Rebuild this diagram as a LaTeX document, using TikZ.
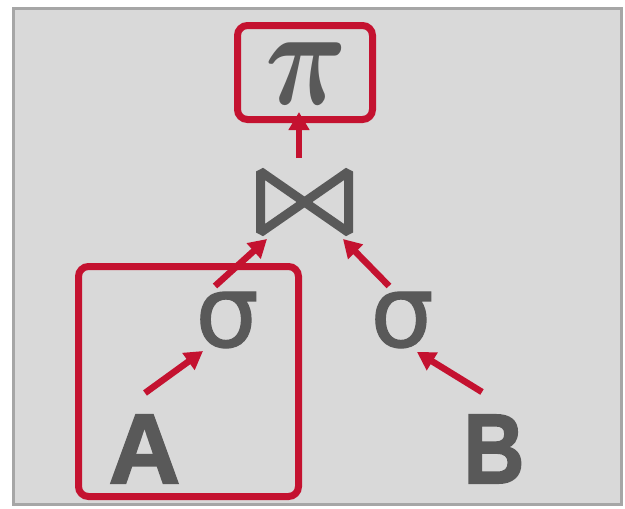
\documentclass[tikz,border=0pt]{standalone}
\usepackage{fontspec}
\usetikzlibrary{arrows.meta}
\newfontfamily\hvyfont[FakeBold=2]{Liberation Sans}
\newfontfamily\dvsfont[FakeBold=1.2]{DejaVu Sans}
\definecolor{redc}{HTML}{C41230}
\definecolor{txt}{HTML}{595959}
\definecolor{bg}{HTML}{D9D9D9}
\definecolor{frame}{HTML}{A6A6A6}
\tikzset{
  sym/.style={text=txt, inner sep=0pt, outer sep=0pt},
  arr/.style={draw=redc, line width=6.5pt, -{Triangle[length=18pt,width=20pt]}},
  grp/.style={draw=redc, line width=7pt, rounded corners=10pt},
  bowtie/.style={draw=txt, line width=9pt, line join=miter, miter limit=1.4},
}
\begin{document}
\begin{tikzpicture}[x=1pt,y=-1pt]
\useasboundingbox (0,0) rectangle (625,509);
\fill[white] (0,0) rectangle (625,509);
\draw[frame, fill=bg, line width=3pt] (13.5,8.5) rectangle (621.5,504.5);
% nodes
\node[sym] (pi) at (307,74) {\scalebox{11.4}[13.9]{\boldmath$\pi$}};
\node[sym, minimum width=97pt, minimum height=70pt] (join) at (304.5,202) {};
\draw[bowtie] ([shift={(4.5,4.5)}]join.north west) -- ([shift={(-4.5,-4.5)}]join.south east)
  -- ([shift={(-4.5,4.5)}]join.north east) -- ([shift={(4.5,-4.5)}]join.south west) -- cycle;
\node[sym, font={\dvsfont\fontsize{100}{100}\selectfont}] (sigA) at (227,320) {σ};
\node[sym, font={\dvsfont\fontsize{100}{100}\selectfont}] (sigB) at (402,320) {σ};
\node[sym, font={\hvyfont\bfseries\fontsize{99}{99}\selectfont}] (A) at (144.5,449) {A};
\node[sym, font={\hvyfont\bfseries\fontsize{99}{99}\selectfont}] (B) at (494,449) {\scalebox{0.85}[1]{B}};
% group boxes
\draw[grp] (237.5,25.5) rectangle (372.5,119.5);
\draw[grp] (78.5,266.5) rectangle (298.5,496.5);
% arrows
\draw[arr] ([shift={(-5.5,-44)}]join.center) -- ([shift={(-8,38)}]pi.center);
\draw[arr] ([shift={(-12,-34)}]sigA.center) -- ([shift={(-37.5,37)}]join.center);
\draw[arr] ([shift={(-13,-34)}]sigB.center) -- ([shift={(38.5,37)}]join.center);
\draw[arr] ([shift={(0.5,-56)}]A.center) -- ([shift={(-24,31)}]sigA.center);
\draw[arr] ([shift={(-12,-57)}]B.center) -- ([shift={(15,32)}]sigB.center);
\end{tikzpicture}
\end{document}
